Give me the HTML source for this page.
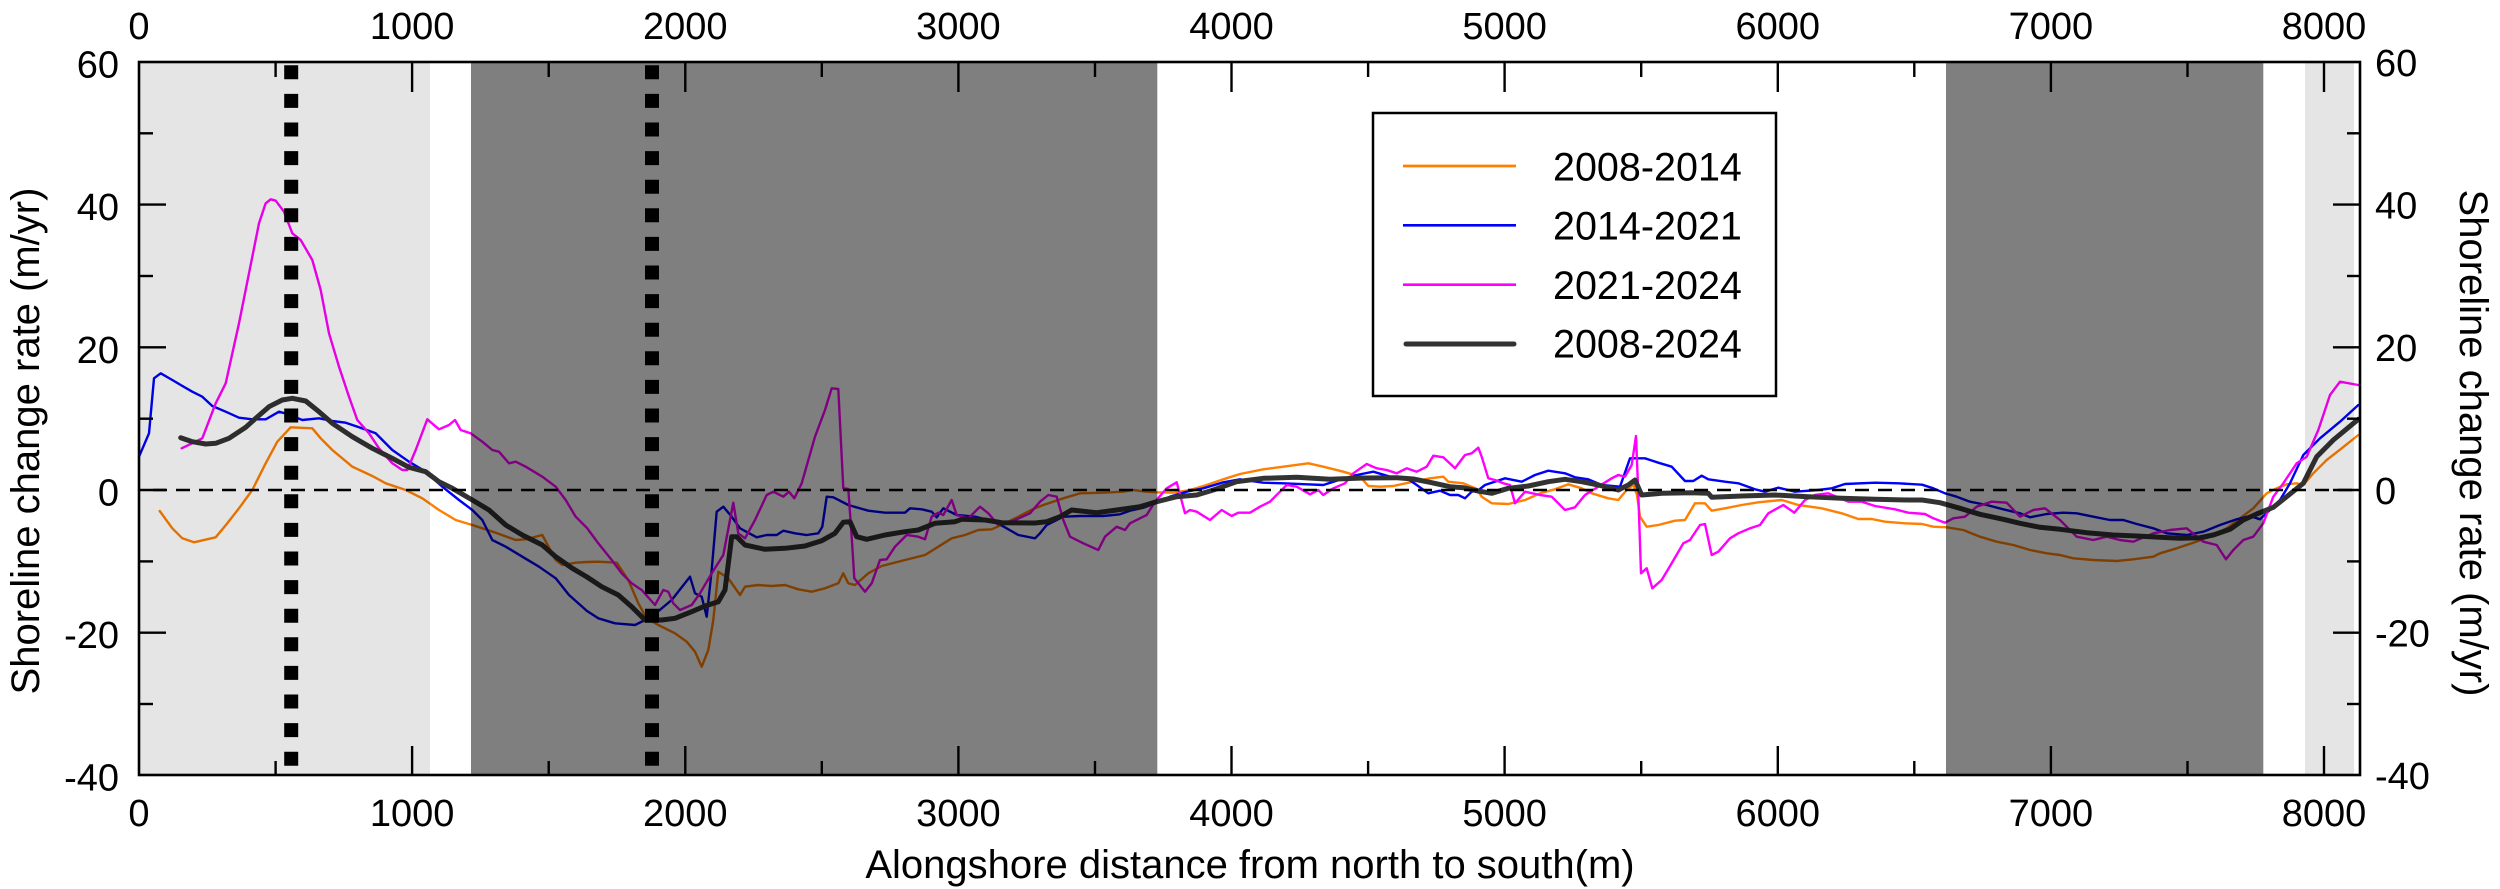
<!DOCTYPE html>
<html><head><meta charset="utf-8"><style>
html,body{margin:0;padding:0;background:#fff;}
svg{display:block;}
text{font-family:"Liberation Sans",Arial,sans-serif;fill:#000;}
</style></head><body>
<svg width="2500" height="889" viewBox="0 0 2500 889" xmlns="http://www.w3.org/2000/svg">
<rect x="0" y="0" width="2500" height="889" fill="#fff"/>
<g fill="none" stroke-linejoin="round" stroke-linecap="round">
<polyline stroke="#ff7f00" stroke-width="2.4" points="159.7,511 172.3,528.3 182.3,538.3 194,542.3 215.7,537.3 227.3,523.3 239,508.3 252.3,490 265.7,463.3 277.3,441.7 290.7,427.3 312.3,428.3 320.7,438.3 332.3,450 352.3,466.7 372.3,476 385.7,483.3 405.7,490 422.3,498.3 439,510 455.7,520 472.3,525 495.7,532.7 515.7,540 525.7,539.3 542.3,535 555.7,560 562.3,565 575.7,562.7 587,562 598.3,561.7 616.7,562.7 628.3,580 638.3,603.3 646.7,618.3 658.3,625 675,633.3 686.7,641.7 695,651.7 701.7,666.7 708.3,650 713.3,620 718.3,571.7 728.3,578.3 740,595 745,586.7 758.3,585 771.7,586 785,585 798.3,589.3 811.7,591.7 825,588.3 838.3,583.3 843.3,573.3 848.3,583.3 855,585 868.3,573.3 881.7,566 905,560 925,555 938.3,546.7 951.7,538.3 965,535 978.3,530 991.7,529.3 1005,523.3 1018.3,516.7 1032,509.5 1043.3,505 1063.3,498.3 1080,493.3 1103.3,492.7 1123.3,491.7 1133.3,490 1146.7,491.7 1156.7,492.3 1173.3,492.7 1190,490 1206.7,485 1223.3,479.3 1240,474 1263.3,469.3 1283.3,466.7 1308.3,463.3 1323.3,466.7 1343.3,471.7 1360,476.7 1368.3,486 1380,486.7 1393.3,486 1413.3,481.7 1430,478.3 1443.3,476.7 1448.3,481.7 1463.3,483.3 1477,489 1481.7,496.7 1491.7,503.3 1508.3,504 1525,500 1541.7,492.7 1555,489.3 1568.3,484.3 1581.7,488.3 1591.7,493.3 1608.3,498.3 1618.3,500 1626.7,490 1633.3,485 1637,495 1640,516.7 1646.7,526.7 1658.3,525 1675,520.7 1685,520 1695,503.3 1705,503.3 1711.7,510.7 1725,508.3 1741.7,505 1758.3,502.3 1781.7,500 1798.3,505 1821.7,508.3 1841.7,513.3 1858.3,519 1871.7,519 1885,521.7 1905,523.3 1922,524 1933.3,526.7 1946.7,527.3 1963.3,530 1980,536.7 1996.7,541.7 2013.3,545 2030,550 2046.7,553.3 2060,555 2073.3,558.3 2093.3,560 2116.7,561 2133.3,559.3 2153.3,556.7 2160,553.3 2176.7,548.3 2193.3,542.7 2210,536.7 2226.7,528.3 2240,518.3 2253.3,508.3 2266.7,493.3 2276.7,488.3 2286.7,484.3 2296.7,483.3 2303.3,485 2313.3,473.3 2326.7,460 2341.7,448.3 2358.3,435"/>
<polyline stroke="#0000ff" stroke-width="2.4" points="139,456.7 149,433.3 154,378.3 160.7,373.3 172.3,380 180.7,385 192.3,391.7 202.3,396.7 212.3,406 225.7,411.7 239,417.7 252.3,419.3 265.7,419.3 279,411.7 287.3,414 302.3,420 319,418.3 332.3,421 345.7,422.7 359,427.3 375.7,433.3 392.3,450 409,461.7 425.7,471.7 442.3,486.7 459,500 472.3,510 482.3,520 492.3,540 505.7,546.7 522.3,556.7 539,566.7 555.7,578.3 569,595 587,611 598.3,618.3 615,623.3 635,625 651.7,616.7 671.7,600 690,576.7 695,593.3 701.7,596.7 706.7,616.7 711.7,570 716.7,511.7 723.3,506.7 731.7,516.7 740,528.3 756.7,537.3 766.7,535 776.7,535 783.3,530.7 795,533.3 806.7,535 818.3,533.3 822.3,526.7 826.7,496.7 833.3,497.3 848.3,505 868.3,510.7 885,512.7 905,512.7 910,508.3 921.7,509.3 931.7,511.7 936.7,517.3 943.3,508.3 956.7,515 975,516.7 995,521.7 1018.3,535 1035,538.3 1040,533.3 1046.7,525 1063.3,516.7 1080,516 1103.3,516 1120,514.3 1130,510.7 1143.3,507.7 1156.7,502.7 1170,496.7 1186.7,491.7 1203.3,488.3 1223.3,482.3 1240,479.3 1263.3,482.7 1283.3,483.3 1306.7,484.3 1323.3,485 1336.7,480.7 1356.7,475 1373.3,471.7 1390,476.7 1406.7,478.3 1416.7,485 1428.3,493.3 1440,490.7 1450,495 1458.3,495 1465,498.3 1471.7,491.7 1478,490.5 1485,485 1505,478.3 1521.7,481.7 1535,475 1548.3,470.7 1565,473.3 1575,477.3 1588.3,479.3 1601.7,485 1620,486.7 1630,458.3 1645,458.3 1658.3,462.7 1671.7,466.7 1685,481 1693.3,481 1701.7,475.7 1708.3,479.3 1725,481.7 1738.3,483.3 1755,489.3 1765,491.7 1778.3,487.7 1795,491.7 1818.3,490 1831.7,488.3 1845,484 1875,482.7 1898.3,483.3 1922,484.7 1933.3,488.3 1945,493.3 1956.7,496.7 1970,501.7 1986.7,505 2003.3,509.3 2020,513.3 2030,517.3 2046.7,514 2063.3,512.7 2076.7,513.3 2093.3,516.7 2110,520 2123.3,520 2136.7,524 2153.3,528.3 2166.7,533.3 2186.7,535 2203.3,531.7 2220,525 2236.7,519.3 2250,516 2260,519.3 2270,510 2280,500 2290,483.3 2303.3,455 2320,438.3 2340,421.7 2358.3,405"/>
<polyline stroke="#ff00ff" stroke-width="2.4" points="181.7,448.3 202.3,438.3 215.7,403.3 225.7,383.3 239,323.3 249,273.3 259,223.3 265.7,203.3 270.7,199.3 275.7,200.7 284,211.7 292.3,233.3 300.7,240 312.3,260 320.7,290 329,333.3 339,366.7 349,396.7 357.3,420 369,433.3 379,448.3 392.3,463.3 402.3,470 407.3,470 415.7,450 427.3,419.3 439,429.3 449,425 455,420 460.7,430 470.7,433.3 482.3,441.7 492.3,450 499,451.7 509,463.3 515.7,461.7 525.7,466.7 542.3,476.7 555.7,486.7 565.7,500 575.7,516.7 587,528 598.3,543.3 611.7,560 621.7,573.3 631.7,583.3 641.7,590 655,605 663.3,590 668.3,591.7 673.3,603.3 680,610 691.7,605 700,593.3 711.7,573.3 723.3,555 733.3,502.7 738.3,533.3 745,538.3 755,520 766.7,495 773.3,491.7 783.3,496.7 789,491.7 794.3,498.3 801.7,483.3 815,436.7 825,410 831.7,388.3 838.3,389 843.3,488.3 848.3,489 851.7,536.7 854.3,578.3 865,591.7 871.7,583.3 880,560 886.7,559.3 895,546.7 906.7,535 918.3,536.7 925,539.3 931.7,516.7 938.3,512.7 943.3,515 951.7,500 956.7,515 968.3,518.3 980,506.7 988.3,513.3 998.3,525 1015,520 1030,513.3 1040,501.7 1048.3,495 1056.7,496.7 1063.3,520 1070,536.7 1083.3,543.3 1098.3,550 1105,536.7 1116.7,526.7 1125,530 1130,523.3 1140,518.3 1146.7,515 1155,501.7 1166.7,488.3 1176.7,482.3 1185,513.3 1190,510 1196.7,511.7 1210,520 1221.7,510 1231.7,516 1238.3,512.7 1250,512.7 1260,506.7 1270,501.7 1278.3,493.3 1286.7,485 1296.7,486.7 1310,494.3 1318.3,490 1323.3,495 1333.3,488.3 1345,483.3 1353.3,473.3 1366.7,464 1376.7,468.3 1386.7,470 1396.7,473.3 1406.7,468.3 1416.7,471.7 1426.7,466.7 1433.3,455.7 1443.3,457.3 1455,468.3 1465,455 1471.7,453.3 1478.3,447.7 1481.7,456.7 1488.3,478.3 1495,480 1503.3,483.3 1510,485 1515,503.3 1525,491.7 1540,495 1551.7,496.7 1565,510 1575,507.3 1585,495 1598.3,486.7 1611.7,478.3 1618.3,475 1625,476.7 1631.7,465 1636,436 1638.3,493.3 1641,573.3 1646.7,568.3 1652.3,588.3 1661.7,580 1671.7,563.3 1683.3,543.3 1690,540 1700,525 1705,524 1711.7,555 1718.3,551.7 1730,538.3 1738.3,533.3 1750,528.3 1760,525 1768.3,513.3 1783.3,505 1794.3,512.7 1805,500 1815,495 1828.3,493.3 1848.3,501.7 1861.7,501.7 1875,506 1895,509.3 1908.3,512.7 1925,514 1933.3,518.3 1945,522.7 1953.3,518.3 1965,516.7 1976.7,506.7 1991.7,501.7 2006.7,502.7 2020,516.7 2033.3,510 2045,508.3 2060,520 2076.7,536.7 2093.3,540 2106.7,536.7 2120,540 2133.3,541.7 2153.3,533.3 2170,530 2186.7,528.3 2203.3,541.7 2216.7,545 2226,559.3 2233.3,550 2243.3,540 2253.3,536.7 2263.3,523.3 2273.3,496.7 2283.3,483.3 2296.7,463.3 2306.7,456.7 2318.3,430 2330,395 2340,381.7 2358.3,385"/>
<polyline stroke="#333333" stroke-width="5" points="180.7,437.7 192.3,441.7 205.7,444 215.7,443.3 229,438.3 245.7,427.3 255.7,418.3 269,406.7 282.3,400 292.3,398.3 305.7,401 319,411.7 332.3,423.3 352.3,436.7 372.3,448.3 392.3,458.3 409,467.3 425.7,471.7 439,481.7 452.3,488.3 472.3,500 489,510 505.7,525 522.3,535 542.3,545 555.7,556.7 572.3,568.3 587,577 601.7,586.7 618.3,595 631.7,606.7 645,620 661.7,620 675,618.3 691.7,611.7 705,606 718.3,601.7 725,590 731.7,536.7 736.7,536.7 745,545 765,549.3 785,548.3 805,546 821.7,540.7 835,533.3 843.3,522.3 850,521.7 856.7,536.7 866.7,539.3 885,535 905,531.7 918.3,530 935,523.3 955,521.7 961.7,519.3 985,520 1001.7,522.7 1035,523 1046.7,521.7 1060,516.7 1071.7,510 1096.7,512.7 1116.7,510 1140,506.7 1156.7,501.7 1176.7,496.7 1196.7,495 1213.3,490 1236.7,481.7 1263.3,478.3 1296.7,477.3 1330,479.3 1363.3,478 1396.7,477.7 1413.3,479 1430,482.3 1450,486.7 1463.3,487.7 1478,491 1491.7,493.3 1508.3,488.3 1528.3,486 1548.3,481.7 1565,479.3 1581.7,481.7 1598.3,485 1618.3,490 1628.3,485 1635,480 1641.7,495 1661.7,493.3 1691.7,492.7 1708.3,493.3 1711.7,497.3 1741.7,496 1775,495 1808.3,496.7 1841.7,498.3 1875,499.3 1908.3,500 1922,500 1940,502.7 1960,508.3 1980,514.3 2003.3,519.3 2020,523.3 2040,527.3 2060,529.3 2086.7,532.7 2113.3,535 2136.7,536 2160,537.3 2180,538.3 2200,537.7 2213.3,535 2230,529.3 2243.3,520 2256.7,514 2273.3,507.3 2286.7,496.7 2303.3,483.3 2316.7,456.7 2333.3,440 2358.3,419.3"/>
</g>
<!-- shaded overlays -->
<rect x="140" y="63" width="290" height="711" fill="#000" fill-opacity="0.1"/>
<rect x="471" y="63" width="686.3" height="711" fill="#000" fill-opacity="0.5"/>
<rect x="1946" y="63" width="317.3" height="711" fill="#000" fill-opacity="0.5"/>
<rect x="2305" y="63" width="49" height="711" fill="#000" fill-opacity="0.1"/>
<!-- zero dashed line -->
<line x1="153" y1="490" x2="2358" y2="490" stroke="#000" stroke-width="2.4" stroke-dasharray="14 9"/>
<!-- dotted vertical lines -->
<line x1="291.2" y1="65.3" x2="291.2" y2="766" stroke="#000" stroke-width="14" stroke-dasharray="14 14.6"/>
<line x1="652" y1="65.3" x2="652" y2="766" stroke="#000" stroke-width="14" stroke-dasharray="14 14.6"/>
<!-- frame -->
<rect x="139" y="62" width="2221" height="713" fill="none" stroke="#000" stroke-width="2.6"/>
<g stroke="#000" stroke-width="2.4">
<!-- left ticks -->
<line x1="139" y1="204.6" x2="166" y2="204.6"/><line x1="139" y1="347.3" x2="166" y2="347.3"/><line x1="139" y1="490" x2="166" y2="490"/><line x1="139" y1="632.7" x2="166" y2="632.7"/>
<line x1="139" y1="133.3" x2="153" y2="133.3"/><line x1="139" y1="276" x2="153" y2="276"/><line x1="139" y1="418.7" x2="153" y2="418.7"/><line x1="139" y1="561.4" x2="153" y2="561.4"/><line x1="139" y1="704" x2="153" y2="704"/>
<!-- right ticks -->
<line x1="2360" y1="204.6" x2="2333" y2="204.6"/><line x1="2360" y1="347.3" x2="2333" y2="347.3"/><line x1="2360" y1="490" x2="2333" y2="490"/><line x1="2360" y1="632.7" x2="2333" y2="632.7"/>
<line x1="2360" y1="133.3" x2="2347" y2="133.3"/><line x1="2360" y1="276" x2="2347" y2="276"/><line x1="2360" y1="418.7" x2="2347" y2="418.7"/><line x1="2360" y1="561.4" x2="2347" y2="561.4"/><line x1="2360" y1="704" x2="2347" y2="704"/>
<!-- top ticks -->
<line x1="412.1" y1="62" x2="412.1" y2="92"/><line x1="685.3" y1="62" x2="685.3" y2="92"/><line x1="958.4" y1="62" x2="958.4" y2="92"/><line x1="1231.5" y1="62" x2="1231.5" y2="92"/><line x1="1504.6" y1="62" x2="1504.6" y2="92"/><line x1="1777.8" y1="62" x2="1777.8" y2="92"/><line x1="2050.9" y1="62" x2="2050.9" y2="92"/><line x1="2324" y1="62" x2="2324" y2="92"/>
<line x1="275.6" y1="62" x2="275.6" y2="77"/><line x1="548.7" y1="62" x2="548.7" y2="77"/><line x1="821.8" y1="62" x2="821.8" y2="77"/><line x1="1095" y1="62" x2="1095" y2="77"/><line x1="1368.1" y1="62" x2="1368.1" y2="77"/><line x1="1641.2" y1="62" x2="1641.2" y2="77"/><line x1="1914.3" y1="62" x2="1914.3" y2="77"/><line x1="2187.5" y1="62" x2="2187.5" y2="77"/>
<!-- bottom ticks -->
<line x1="412.1" y1="775" x2="412.1" y2="746"/><line x1="685.3" y1="775" x2="685.3" y2="746"/><line x1="958.4" y1="775" x2="958.4" y2="746"/><line x1="1231.5" y1="775" x2="1231.5" y2="746"/><line x1="1504.6" y1="775" x2="1504.6" y2="746"/><line x1="1777.8" y1="775" x2="1777.8" y2="746"/><line x1="2050.9" y1="775" x2="2050.9" y2="746"/><line x1="2324" y1="775" x2="2324" y2="746"/>
<line x1="275.6" y1="775" x2="275.6" y2="761"/><line x1="548.7" y1="775" x2="548.7" y2="761"/><line x1="821.8" y1="775" x2="821.8" y2="761"/><line x1="1095" y1="775" x2="1095" y2="761"/><line x1="1368.1" y1="775" x2="1368.1" y2="761"/><line x1="1641.2" y1="775" x2="1641.2" y2="761"/><line x1="1914.3" y1="775" x2="1914.3" y2="761"/><line x1="2187.5" y1="775" x2="2187.5" y2="761"/>
</g>
<!-- tick labels -->
<g font-size="38" text-anchor="middle">
<text x="139" y="39">0</text><text x="412.1" y="39">1000</text><text x="685.3" y="39">2000</text><text x="958.4" y="39">3000</text><text x="1231.5" y="39">4000</text><text x="1504.6" y="39">5000</text><text x="1777.8" y="39">6000</text><text x="2050.9" y="39">7000</text><text x="2324" y="39">8000</text>
<text x="139" y="826">0</text><text x="412.1" y="826">1000</text><text x="685.3" y="826">2000</text><text x="958.4" y="826">3000</text><text x="1231.5" y="826">4000</text><text x="1504.6" y="826">5000</text><text x="1777.8" y="826">6000</text><text x="2050.9" y="826">7000</text><text x="2324" y="826">8000</text>
</g>
<g font-size="38" text-anchor="end">
<text x="119" y="77.5">60</text><text x="119" y="220">40</text><text x="119" y="363">20</text><text x="119" y="505.5">0</text><text x="119" y="648">-20</text><text x="119" y="790.5">-40</text>
</g>
<g font-size="38" text-anchor="start">
<text x="2375" y="76">60</text><text x="2375" y="218.5">40</text><text x="2375" y="361">20</text><text x="2375" y="504">0</text><text x="2375" y="646.5">-20</text><text x="2375" y="789">-40</text>
</g>
<!-- axis titles -->
<text font-size="40" text-anchor="middle" transform="translate(39,441) rotate(-90)">Shoreline change rate (m/yr)</text>
<text font-size="40" text-anchor="middle" transform="translate(2460,443) rotate(90)">Shoreline change rate (m/yr)</text>
<text font-size="40" text-anchor="middle" x="1250" y="878">Alongshore distance from north to south(m)</text>
<!-- legend -->
<rect x="1373" y="113" width="403" height="283" fill="#fff" stroke="#000" stroke-width="2.5"/>
<line x1="1403" y1="166" x2="1516" y2="166" stroke="#ff7f00" stroke-width="2.7"/>
<line x1="1403" y1="225.3" x2="1516" y2="225.3" stroke="#0000ff" stroke-width="2.7"/>
<line x1="1403" y1="284.7" x2="1516" y2="284.7" stroke="#ff00ff" stroke-width="2.7"/>
<line x1="1406" y1="344" x2="1514" y2="344" stroke="#333333" stroke-width="5" stroke-linecap="round"/>
<g font-size="39.5">
<text x="1553" y="180.5">2008-2014</text>
<text x="1553" y="239.5">2014-2021</text>
<text x="1553" y="298.8">2021-2024</text>
<text x="1553" y="357.5">2008-2024</text>
</g>
</svg>
</body></html>
